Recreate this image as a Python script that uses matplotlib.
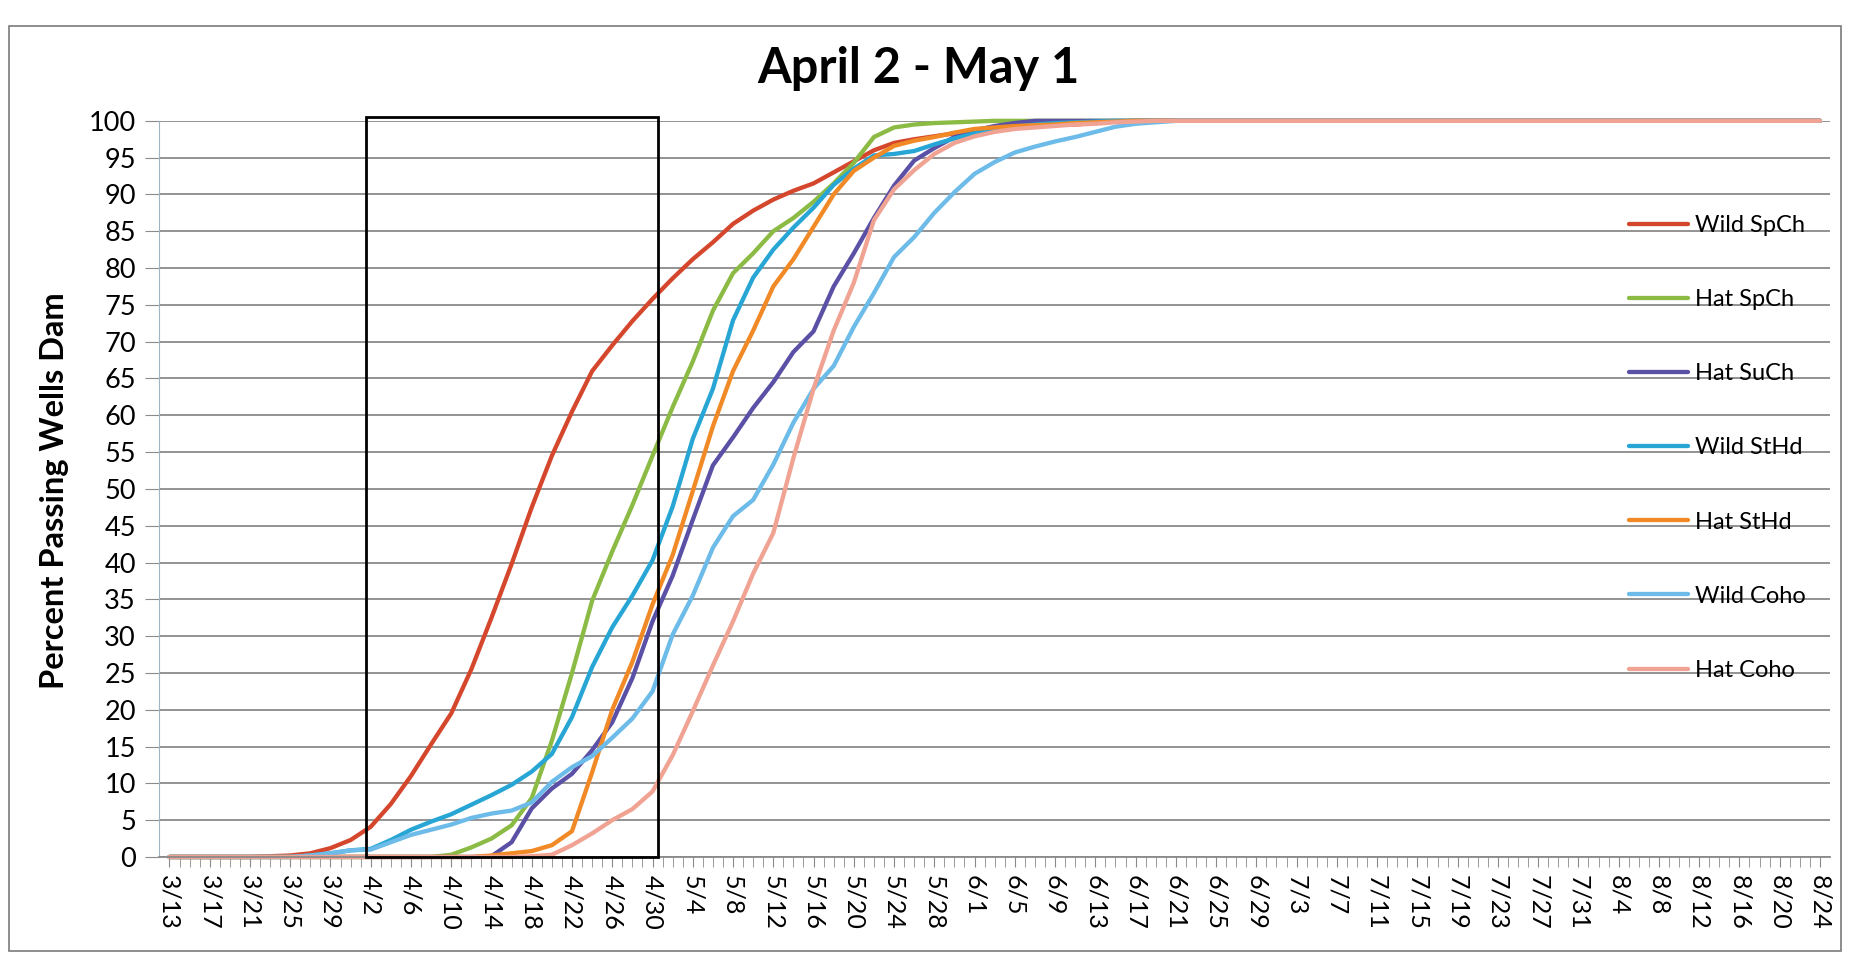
import pandas as pd
import matplotlib
matplotlib.use('Agg')
import matplotlib.pyplot as plt
from matplotlib.patches import Rectangle

plt.rcParams['font.family'] = ['Lato', 'DejaVu Sans']

# sample dates (M/D, 2014 season) and cumulative percent passing
dates = ['3/13', '3/17', '3/21', '3/25', '3/27', '3/29', '3/31', '4/2', '4/4', '4/6',
         '4/8', '4/10', '4/12', '4/14', '4/16', '4/18', '4/20', '4/22', '4/24', '4/26',
         '4/28', '4/30', '5/2', '5/4', '5/6', '5/8', '5/10', '5/12', '5/14', '5/16',
         '5/18', '5/20', '5/22', '5/24', '5/26', '5/28', '5/30', '6/1', '6/3', '6/5',
         '6/7', '6/9', '6/11', '6/13', '6/15', '6/17', '6/19', '6/21', '6/29', '7/11',
         '7/27', '8/12', '8/24']

wild_spch = [0, 0, 0, 0.2, 0.5, 1.2, 2.3, 4.1, 7.2, 11,
             15.3, 19.5, 25.5, 32.5, 39.8, 47.5, 54.5, 60.5, 66, 69.5,
             72.8, 75.8, 78.6, 81.2, 83.5, 86, 87.8, 89.3, 90.5, 91.5,
             93, 94.5, 96, 97, 97.5, 97.9, 98.3, 98.7, 99, 99.3,
             99.4, 99.5, 99.5, 99.7, 99.9, 100, 100, 100, 100, 100,
             100, 100, 100]
hat_spch = [0, 0, 0, 0, 0, 0, 0, 0, 0, 0,
            0, 0.3, 1.3, 2.5, 4.3, 8, 15.8, 25, 34.8, 41.5,
            47.8, 54.5, 61.1, 67.3, 74.2, 79.3, 82, 85, 86.8, 89,
            91.5, 94.3, 97.8, 99.1, 99.5, 99.7, 99.8, 99.9, 100, 100,
            100, 100, 100, 100, 100, 100, 100, 100, 100, 100,
            100, 100, 100]
hat_such = [0, 0, 0, 0, 0, 0, 0, 0, 0, 0,
            0, 0, 0, 0.1, 2, 6.6, 9.3, 11.3, 14.5, 18.3,
            24.3, 32, 38.2, 45.8, 53.2, 57, 61, 64.5, 68.6, 71.4,
            77.5, 82, 86.8, 91.2, 94.6, 96.3, 97.8, 98.7, 99.3, 99.7,
            100, 100, 100, 100, 100, 100, 100, 100, 100, 100,
            100, 100, 100]
wild_sthd = [0, 0, 0, 0, 0.2, 0.5, 0.9, 1.1, 2.3, 3.7,
             4.8, 5.8, 7.1, 8.4, 9.8, 11.6, 14, 19, 25.8, 31.2,
             35.5, 40.3, 47.6, 56.8, 63.6, 72.9, 78.7, 82.5, 85.5, 88.2,
             91.3, 93.5, 95.3, 95.5, 95.9, 96.8, 97.6, 98.3, 98.8, 99.2,
             99.5, 99.7, 99.8, 99.9, 100, 100, 100, 100, 100, 100,
             100, 100, 100]
hat_sthd = [0, 0, 0, 0, 0, 0, 0, 0, 0, 0,
            0, 0, 0, 0.2, 0.5, 0.8, 1.6, 3.5, 11.5, 20,
            26.5, 34.3, 41, 49.7, 58.5, 66, 71.5, 77.5, 81.2, 85.6,
            90, 93.2, 95, 96.6, 97.3, 97.8, 98.4, 98.9, 99.1, 99.3,
            99.4, 99.5, 99.7, 99.8, 99.9, 100, 100, 100, 100, 100,
            100, 100, 100]
wild_coho = [0, 0, 0, 0, 0.2, 0.5, 0.9, 1.0, 2, 3,
             3.7, 4.4, 5.3, 5.9, 6.3, 7.4, 10.2, 12.2, 13.7, 16.2,
             18.8, 22.5, 30.2, 35.5, 42, 46.3, 48.5, 53.3, 59, 63.6,
             66.7, 72, 76.6, 81.5, 84.2, 87.5, 90.3, 92.8, 94.4, 95.7,
             96.5, 97.2, 97.8, 98.5, 99.2, 99.6, 99.8, 100, 100, 100,
             100, 100, 100]
hat_coho = [0, 0, 0, 0, 0, 0, 0, 0, 0, 0,
            0, 0, 0, 0, 0, 0.1, 0.3, 1.6, 3.2, 5,
            6.5, 8.9, 13.8, 19.8, 26, 32, 38.5, 44, 54.2, 63.6,
            71.5, 78, 86.5, 90.7, 93.3, 95.5, 97, 97.9, 98.5, 98.9,
            99.1, 99.3, 99.5, 99.6, 99.8, 99.9, 100, 100, 100, 100,
            100, 100, 100]

series = ['Wild SpCh', 'Hat SpCh', 'Hat SuCh', 'Wild StHd', 'Hat StHd', 'Wild Coho', 'Hat Coho']
colors = ['#d5472c', '#8cbb45', '#5a50a6', '#27a6d5', '#f18a26', '#6cbbe8', '#f0a393']

tick_labels = ['3/13', '3/17', '3/21', '3/25', '3/29', '4/2', '4/6', '4/10', '4/14', '4/18',
               '4/22', '4/26', '4/30', '5/4', '5/8', '5/12', '5/16', '5/20', '5/24', '5/28',
               '6/1', '6/5', '6/9', '6/13', '6/17', '6/21', '6/25', '6/29', '7/3', '7/7',
               '7/11', '7/15', '7/19', '7/23', '7/27', '7/31', '8/4', '8/8', '8/12', '8/16',
               '8/20', '8/24']

window = ['4/2', '5/1']


def day_of(s):
    return (pd.to_datetime('2014/' + s) - pd.to_datetime('2014/3/13')).days


x = [day_of(s) for s in dates]
last_day = day_of(tick_labels[-1])

fig = plt.figure(figsize=(18.75, 9.56), dpi=100)
ax = fig.add_axes([0.0850, 0.1036, 0.891, 0.770])

for vals, name, c in zip([wild_spch, hat_spch, hat_such, wild_sthd, hat_sthd, wild_coho, hat_coho],
                         series, colors):
    ax.plot(x, vals, color=c, lw=3.1, label=name, clip_on=False, solid_capstyle='round')

# highlighted migration window (box drawn between day marks)
w0, w1 = day_of(window[0]) - 0.5, day_of(window[1]) - 0.5
ax.add_patch(Rectangle((w0, 0), w1 - w0, 100.5, fill=False, ec='black', lw=2, clip_on=False, zorder=5))

ax.set_xlim(-1, last_day + 1)
ax.set_ylim(0, 100)
ax.set_yticks(range(0, 101, 5))
ax.tick_params(axis='y', labelsize=19.5, length=10, color='#8a8a8a', pad=7)
ax.set_xticks([day_of(s) for s in tick_labels])
ax.set_xticklabels(tick_labels, rotation=-90, fontsize=18)
ax.set_xticks(range(0, last_day + 1), minor=True)
ax.tick_params(axis='x', which='both', length=7, color='#8a8a8a', pad=6)
ax.grid(axis='y', color='#8a8a8a', lw=1.3)
ax.set_axisbelow(True)
for s in ['top', 'right']:
    ax.spines[s].set_visible(False)
ax.spines['left'].set_color('#9fb4c0')
ax.spines['bottom'].set_color('#8a8a8a')
ax.spines['bottom'].set_linewidth(1.3)

fig.text(0.49, 0.928, 'April 2 - May 1', ha='center', va='center', fontsize=35, fontweight='bold')
fig.text(0.029, 0.487, 'Percent Passing Wells Dam', ha='center', va='center', rotation=90,
         fontsize=23.5, fontweight='bold')

ax.legend(loc='upper left', bbox_to_anchor=(0.869, 0.775), bbox_transform=fig.transFigure,
          frameon=False, fontsize=17, handlelength=2.5, handletextpad=0.3,
          labelspacing=2.25, borderpad=0, borderaxespad=0)

fig.patches.append(Rectangle((0.005, 0.005), 0.977, 0.968, transform=fig.transFigure,
                             fill=False, ec='#7a7a7a', lw=1.2))

fig.savefig('out.png', dpi=100, facecolor='white')
